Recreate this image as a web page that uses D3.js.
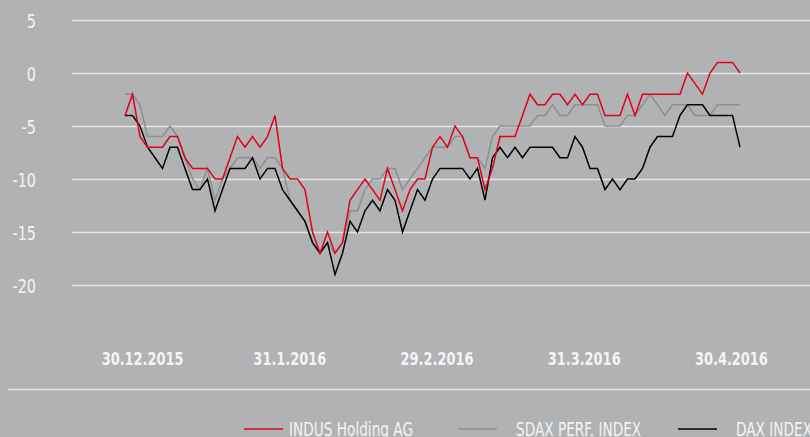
<!DOCTYPE html>
<html>
<head>
<meta charset="utf-8">
<script src="https://cdn.jsdelivr.net/npm/d3@7"></script>
<style>
  body { margin: 0; background: #b1b2b4; overflow: hidden; }
  svg text { font-family: "DejaVu Sans", sans-serif; font-stretch: condensed; fill: #f4f4f4; }
</style>
</head>
<body>
<div id="chart"></div>
<script>
// values in percent, daily points
var indus = [
  -4,-2,-6,-7,-7,-7,-6,-6,-8,-9,
  -9,-9,-10,-10,-8,-6,-7,-6,-7,-6,
  -4,-9,-10,-10,-11,-15,-17,-15,-17,-16,
  -12,-11,-10,-11,-12,-9,-11,-13,-11,-10,
  -10,-7,-6,-7,-5,-6,-8,-8,-11,-9,
  -6,-6,-6,-4,-2,-3,-3,-2,-2,-3,
  -2,-3,-2,-2,-4,-4,-4,-2,-4,-2,
  -2,-2,-2,-2,-2,0,-1,-2,0,1,
  1,1,0
];
var sdax = [
  -2,-2,-3,-6,-6,-6,-5,-6,-8,-10,
  -11,-9,-12,-10,-9,-8,-8,-8,-9,-8,
  -8,-9,-12,-13,-14,-16,-17,-16,-17,-16,
  -13,-13,-11,-10,-10,-9,-9,-11,-10,-9,
  -8,-7,-7,-7,-6,-6,-8,-8,-9,-6,
  -5,-5,-5,-5,-5,-4,-4,-3,-4,-4,
  -3,-3,-3,-3,-5,-5,-5,-4,-4,-3,
  -2,-3,-4,-3,-3,-3,-4,-4,-4,-3,
  -3,-3,-3
];
var dax = [
  -4,-4,-5,-7,-8,-9,-7,-7,-9,-11,
  -11,-10,-13,-11,-9,-9,-9,-8,-10,-9,
  -9,-11,-12,-13,-14,-16,-17,-16,-19,-17,
  -14,-15,-13,-12,-13,-11,-12,-15,-13,-11,
  -12,-10,-9,-9,-9,-9,-10,-9,-12,-8,
  -7,-8,-7,-8,-7,-7,-7,-7,-8,-8,
  -6,-7,-9,-9,-11,-10,-11,-10,-10,-9,
  -7,-6,-6,-6,-4,-3,-3,-3,-4,-4,
  -4,-4,-7
];
var dateLabels = ["30.12.2015", "31.1.2016", "29.2.2016", "31.3.2016", "30.4.2016"];
var yTicks = [5, 0, -5, -10, -15, -20];
var seriesNames = ["INDUS Holding AG", "SDAX PERF. INDEX", "DAX INDEX"];
var seriesColors = ["#e2001a", "#8e8f91", "#000000"];

var width = 810, height = 437;
var squeeze = 0.8; // narrow look of the original font

var svg = d3.select("#chart").append("svg")
    .attr("width", width)
    .attr("height", height);

// scales
var x = d3.scaleLinear()
    .domain([0, indus.length - 1])
    .range([125, 740]);
var y = d3.scaleLinear()
    .domain([-20, 5])
    .range([285, 20]);
var xLab = d3.scaleBand()
    .domain(dateLabels)
    .range([69, 805]);

// grid + y labels
var yAxis = d3.axisLeft(y)
    .tickValues(yTicks)
    .tickSize(-(width - 72))
    .tickFormat(function(d) { return d; });

var yGroup = svg.append("g")
    .attr("transform", "translate(72,0)")
    .call(yAxis);
yGroup.select(".domain").remove();
yGroup.selectAll(".tick line")
    .attr("stroke", "#e4e5e6")
    .attr("stroke-width", 1.6);
yGroup.selectAll(".tick text")
    .attr("x", -36 / squeeze)
    .attr("dy", "0.38em")
    .attr("transform", "scale(" + squeeze + ",1)")
    .attr("text-anchor", "end")
    .style("font-size", "20px")
    .style("fill", "#f4f4f4");

// x labels
var xAxis = d3.axisBottom(xLab).tickSize(0);
var xGroup = svg.append("g")
    .attr("transform", "translate(0,352)")
    .call(xAxis);
xGroup.select(".domain").remove();
xGroup.selectAll(".tick text")
    .attr("dy", "0.71em")
    .attr("y", 0)
    .attr("transform", "scale(" + squeeze + ",1)")
    .style("font-size", "18px")
    .style("font-weight", "bold")
    .style("fill", "#f4f4f4");

// divider
svg.append("line")
    .attr("x1", 8).attr("x2", width)
    .attr("y1", 389.5).attr("y2", 389.5)
    .attr("stroke", "#e8e8e8")
    .attr("stroke-width", 1.5);

// lines
var line = d3.line()
    .x(function(d, i) { return x(i); })
    .y(function(d) { return y(d); });

var allSeries = [sdax, dax, indus];
var colorOrder = [seriesColors[1], seriesColors[2], seriesColors[0]];

svg.selectAll("path.series")
    .data(allSeries)
    .enter().append("path")
    .attr("class", "series")
    .attr("d", line)
    .attr("fill", "none")
    .attr("stroke", function(d, i) { return colorOrder[i]; })
    .attr("stroke-width", 1.5)
    .attr("stroke-linejoin", "miter");

// legend
var legendX = [244, 458, 678];
var leg = svg.selectAll("g.legend")
    .data(seriesNames)
    .enter().append("g")
    .attr("class", "legend")
    .attr("transform", function(d, i) { return "translate(" + legendX[i] + ",429)"; });

leg.append("line")
    .attr("x1", 0).attr("x2", 39)
    .attr("y1", 0).attr("y2", 0)
    .attr("stroke", function(d, i) { return seriesColors[i]; })
    .attr("stroke-width", 1.5);

leg.append("text")
    .attr("x", function(d, i) { return (i == 0 ? 45 : 58) / squeeze; })
    .attr("y", 7)
    .attr("transform", "scale(" + squeeze + ",1)")
    .style("font-size", "19px")
    .text(function(d) { return d; });
</script>
</body>
</html>
